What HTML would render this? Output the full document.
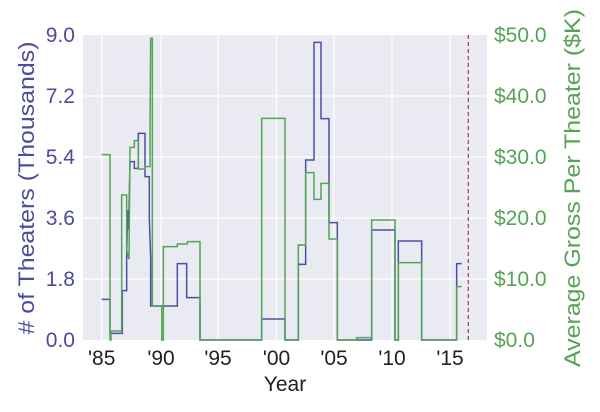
<!DOCTYPE html>
<html><head><style>
body{margin:0;background:#fff;}
svg{display:block;font-family:"Liberation Sans","DejaVu Sans",sans-serif;}
</style></head><body>
<svg width="600" height="412" viewBox="0 0 600 412">
<rect x="83" y="35" width="404" height="305" fill="#eaeaf2"/>
<g stroke="#fff" stroke-width="1.2">
<line x1="101.7" y1="35" x2="101.7" y2="340"/><line x1="161" y1="35" x2="161" y2="340"/>
<line x1="218" y1="35" x2="218" y2="340"/><line x1="276.5" y1="35" x2="276.5" y2="340"/>
<line x1="334" y1="35" x2="334" y2="340"/><line x1="392" y1="35" x2="392" y2="340"/>
<line x1="450" y1="35" x2="450" y2="340"/>
<line x1="83" y1="279" x2="487" y2="279"/><line x1="83" y1="218" x2="487" y2="218"/>
<line x1="83" y1="157" x2="487" y2="157"/><line x1="83" y1="96" x2="487" y2="96"/>
</g>
<g fill="none" stroke-width="1.5" stroke-linejoin="miter">
<g transform="translate(80,20) scale(0.33333)">
<path vector-effect="non-scaling-stroke" stroke="#4e4ea6" d="M65,838H90V940H127V812H140V715L143,570V630L147,570L150,425H163V445H175V340H195V470H208V595L212,715V858H292V731H320V833H360V960H545V897H615V960H655V733H666"/>
<path vector-effect="non-scaling-stroke" stroke="#55a455" d="M65,404H90V960H93V933H125V525H140V690L147,718L150,382H163V362H175V447H195V440H210V332L212,55H217V858H245V960H250V680H292V672H322V665H360V960H545V295H615V960H655V675H666"/>
</g>
<g transform="translate(250,20) scale(0.33333)">
<path vector-effect="non-scaling-stroke" stroke="#4e4ea6" d="M146,733H167V420H192V67H213V296H237V608H262V960H365V630H435V960H445V663H515V960H620V731H635"/>
<path vector-effect="non-scaling-stroke" stroke="#55a455" d="M146,675H167V458H192V538H213V490H237V657H262V960H320V953H365V600H435V960H445V728H515V960H620V800H635"/>
</g>
</g>
<line x1="468.3" y1="35" x2="468.3" y2="340" stroke="#b04a4a" stroke-width="1.3" stroke-dasharray="4,3"/>
<g fill="#4c4c9c" font-size="21" text-anchor="end">
<text x="75" y="42">9.0</text><text x="75" y="103">7.2</text><text x="75" y="164">5.4</text>
<text x="75" y="225">3.6</text><text x="75" y="286">1.8</text><text x="75" y="347">0.0</text>
</g>
<text transform="translate(34,188) rotate(-90)" fill="#4c4c9c" font-size="22" text-anchor="middle" textLength="293" lengthAdjust="spacingAndGlyphs"># of Theaters (Thousands)</text>
<g fill="#55a455" font-size="21">
<text x="494" y="42">$50.0</text><text x="494" y="103">$40.0</text><text x="494" y="164">$30.0</text>
<text x="494" y="225">$20.0</text><text x="494" y="286">$10.0</text><text x="494" y="347">$0.0</text>
</g>
<text transform="translate(580,188) rotate(-90)" fill="#55a455" font-size="22" text-anchor="middle" textLength="358" lengthAdjust="spacingAndGlyphs">Average Gross Per Theater ($K)</text>
<g fill="#222" font-size="21" text-anchor="middle">
<text x="101.7" y="365">'85</text><text x="161" y="365">'90</text><text x="218" y="365">'95</text>
<text x="276.5" y="365">'00</text><text x="334" y="365">'05</text><text x="392" y="365">'10</text>
<text x="450" y="365">'15</text>
<text x="285" y="391">Year</text>
</g>
</svg>
</body></html>
